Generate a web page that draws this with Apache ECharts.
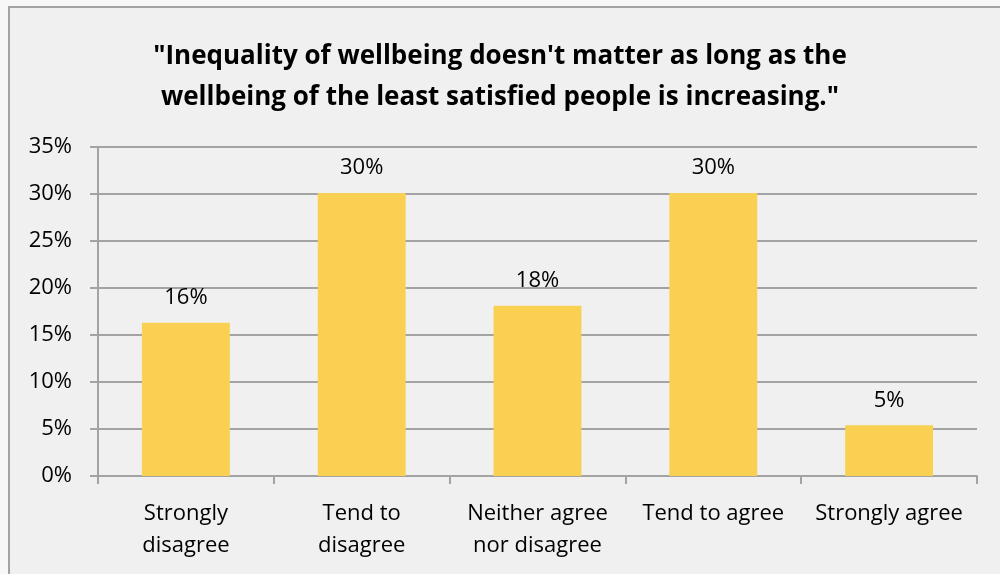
<!DOCTYPE html>
<html>
<head>
<meta charset="utf-8">
<script src="https://cdn.jsdelivr.net/npm/echarts@6/dist/echarts.min.js"></script>
<style>
  html, body { margin: 0; padding: 0; background: #F7F7F7; }
  #frame {
    position: absolute; left: 8px; top: 6px; width: 992px; height: 568px;
    background: #F0F0F0; border-left: 2px solid #A3A3A3; border-top: 2px solid #A3A3A3;
    box-sizing: border-box;
  }
  #chart { position: absolute; left: 0; top: 0; width: 1000px; height: 574px; }
</style>
</head>
<body>
<div id="frame"></div>
<div id="chart"></div>
<script>
// Survey responses: share of respondents per answer
const titleText = '"Inequality of wellbeing doesn\'t matter as long as the\nwellbeing of the least satisfied people is increasing."';
const categories = ['Strongly\ndisagree', 'Tend to\ndisagree', 'Neither agree\nnor disagree', 'Tend to agree', 'Strongly agree'];
const shares = [16.3, 30.1, 18.1, 30.1, 5.4];
const yTicks = { min: 0, max: 35, interval: 5 };

const font = '"Open Sans", "Noto Sans", sans-serif';
const gridColor = '#A3A3A3';

const chart = echarts.init(document.getElementById('chart'), null, { renderer: 'canvas' });
chart.setOption({
  backgroundColor: 'transparent',
  animation: false,
  title: {
    text: titleText,
    left: 'center',
    top: 31,
    textStyle: { fontFamily: font, fontSize: 26, fontWeight: 'bold', color: '#000', lineHeight: 41 }
  },
  grid: { left: 98, right: 23, top: 147, bottom: 98, containLabel: false },
  xAxis: {
    type: 'category',
    data: categories,
    axisLine: { lineStyle: { color: gridColor, width: 2 } },
    axisTick: { show: true, length: 8, lineStyle: { color: gridColor, width: 2 } },
    axisLabel: { fontFamily: font, fontSize: 22, color: '#000', lineHeight: 32, margin: 22, interval: 0 }
  },
  yAxis: {
    type: 'value',
    min: yTicks.min, max: yTicks.max, interval: yTicks.interval,
    axisLine: { show: true, lineStyle: { color: gridColor, width: 2 } },
    axisTick: { show: true, length: 8, lineStyle: { color: gridColor, width: 2 } },
    splitLine: { lineStyle: { color: gridColor, width: 2 } },
    axisLabel: { fontFamily: font, fontSize: 22, color: '#000', margin: 26, formatter: v => v + '%' }
  },
  series: [{
    type: 'bar',
    data: shares,
    barWidth: '50%',
    itemStyle: { color: '#FAD052' },
    label: {
      show: true, position: 'top', distance: 14,
      fontFamily: font, fontSize: 22, color: '#000',
      formatter: p => Math.round(p.value) + '%'
    }
  }]
});
</script>
</body>
</html>
